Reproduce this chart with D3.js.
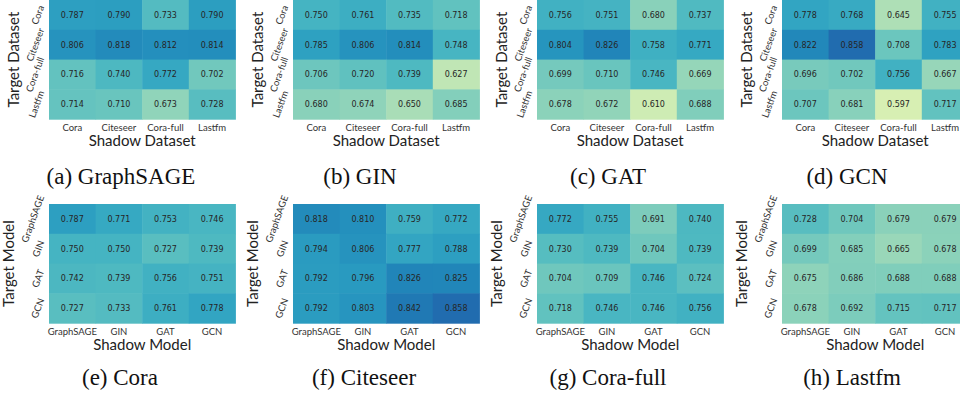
<!DOCTYPE html>
<html>
<head>
<meta charset="utf-8">
<script src="https://cdn.jsdelivr.net/npm/d3@7"></script>
<style>
  body { margin: 0; background: #fff; }
  svg { display: block; }
</style>
</head>
<body>
<div id="chart-area"></div>
<script>
// Categories
const datasets = ["Cora", "Citeseer", "Cora-full", "Lastfm"]
const models = ["GraphSAGE", "GIN", "GAT", "GCN"]

// Top row: rows = target dataset, columns = shadow dataset
const graphsageVals = [
  [0.787, 0.790, 0.733, 0.790],
  [0.806, 0.818, 0.812, 0.814],
  [0.716, 0.740, 0.772, 0.702],
  [0.714, 0.710, 0.673, 0.728]
]
const ginVals = [
  [0.750, 0.761, 0.735, 0.718],
  [0.785, 0.806, 0.814, 0.748],
  [0.706, 0.720, 0.739, 0.627],
  [0.680, 0.674, 0.650, 0.685]
]
const gatVals = [
  [0.756, 0.751, 0.680, 0.737],
  [0.804, 0.826, 0.758, 0.771],
  [0.699, 0.710, 0.746, 0.669],
  [0.678, 0.672, 0.610, 0.688]
]
const gcnVals = [
  [0.778, 0.768, 0.645, 0.755],
  [0.822, 0.858, 0.708, 0.783],
  [0.696, 0.702, 0.756, 0.667],
  [0.707, 0.681, 0.597, 0.717]
]

// Bottom row: rows = target model, columns = shadow model
const coraVals = [
  [0.787, 0.771, 0.753, 0.746],
  [0.750, 0.750, 0.727, 0.739],
  [0.742, 0.739, 0.756, 0.751],
  [0.727, 0.733, 0.761, 0.778]
]
const citeseerVals = [
  [0.818, 0.810, 0.759, 0.772],
  [0.794, 0.806, 0.777, 0.788],
  [0.792, 0.796, 0.826, 0.825],
  [0.792, 0.803, 0.842, 0.858]
]
const coraFullVals = [
  [0.772, 0.755, 0.691, 0.740],
  [0.730, 0.739, 0.704, 0.739],
  [0.704, 0.709, 0.746, 0.724],
  [0.718, 0.746, 0.746, 0.756]
]
const lastfmVals = [
  [0.728, 0.704, 0.679, 0.679],
  [0.699, 0.685, 0.665, 0.678],
  [0.675, 0.686, 0.688, 0.688],
  [0.678, 0.692, 0.715, 0.717]
]

const topCaptions = ["(a) GraphSAGE", "(b) GIN", "(c) GAT", "(d) GCN"]
const bottomCaptions = ["(e) Cora", "(f) Citeseer", "(g) Cora-full", "(h) Lastfm"]

const WIDTH = 960
const HEIGHT = 395
const CELL_W = 46.6
const CELL_H = 29.8
const SANS = "Lato, 'Open Sans', sans-serif"

const svg = d3.select("#chart-area").append("svg")
  .attr("width", WIDTH)
  .attr("height", HEIGHT)

// shared colour scale (seaborn YlGnBu, vmin 0.5, vmax 1.0)
const color = d3.scaleSequential(d3.interpolateYlGnBu).domain([0.5, 1.0])

function drawPanel(opts) {
  const g = svg.append("g")
    .attr("transform", `translate(${opts.left}, ${opts.top})`)

  const x = d3.scaleBand()
    .domain(opts.cols)
    .range([0, CELL_W * 4])
  const y = d3.scaleBand()
    .domain(opts.rows)
    .range([0, CELL_H * 4])

  const cells = []
  opts.values.forEach((row, i) => {
    row.forEach((v, j) => cells.push({ r: opts.rows[i], c: opts.cols[j], v: v }))
  })

  g.selectAll("rect.cell")
    .data(cells)
    .enter().append("rect")
    .attr("class", "cell")
    .attr("x", d => x(d.c))
    .attr("y", d => y(d.r))
    .attr("width", x.bandwidth() + 0.5)
    .attr("height", y.bandwidth() + 0.5)
    .attr("fill", d => color(d.v))

  g.selectAll("text.annot")
    .data(cells)
    .enter().append("text")
    .attr("class", "annot")
    .attr("x", d => x(d.c) + x.bandwidth() / 2)
    .attr("y", d => y(d.r) + y.bandwidth() / 2)
    .attr("dy", "0.36em")
    .attr("text-anchor", "middle")
    .attr("font-family", "'DejaVu Sans', sans-serif")
    .attr("font-size", "8px")
    .attr("fill", "#262626")
    .text(d => d3.format(".3f")(d.v))

  // x tick labels
  g.selectAll("text.xtick")
    .data(opts.cols)
    .enter().append("text")
    .attr("class", "xtick")
    .attr("x", d => x(d) + x.bandwidth() / 2)
    .attr("y", y.range()[1] + 11.5)
    .attr("text-anchor", "middle")
    .attr("font-family", SANS)
    .attr("font-size", "9.5px")
    .attr("fill", "#333")
    .text(d => d)

  // y tick labels, rotated
  const yt = g.selectAll("text.ytick")
    .data(opts.rows)
    .enter().append("text")
    .attr("class", "ytick")
    .attr("text-anchor", "middle")
    .attr("dy", "0.35em")
    .attr("font-family", SANS)
    .attr("font-size", "9.5px")
    .attr("fill", "#333")
    .text(d => d)
  const ang = 70 * Math.PI / 180
  yt.each(function (d) {
    const len = this.getComputedTextLength()
    const half = (len * Math.cos(ang) + 8 * Math.sin(ang)) / 2
    const cx = -4 - half
    const cy = y(d) + y.bandwidth() / 2
    d3.select(this)
      .attr("x", 0).attr("y", 0)
      .attr("transform", `translate(${cx}, ${cy}) rotate(-70)`)
  })

  // axis titles
  g.append("text")
    .attr("x", x.range()[1] / 2)
    .attr("y", y.range()[1] + 27)
    .attr("text-anchor", "middle")
    .attr("font-family", SANS)
    .attr("font-size", "15px")
    .attr("fill", "#222")
    .text(opts.xLabel)
  g.append("text")
    .attr("transform", `translate(${opts.yLabelX}, ${y.range()[1] / 2}) rotate(-90)`)
    .attr("dy", "0.35em")
    .attr("text-anchor", "middle")
    .attr("font-family", SANS)
    .attr("font-size", "15px")
    .attr("fill", "#222")
    .text(opts.yLabel)

  // caption
  svg.append("text")
    .attr("x", opts.captionX)
    .attr("y", opts.captionY)
    .attr("text-anchor", "middle")
    .attr("font-family", "'Liberation Serif', 'Times New Roman', serif")
    .attr("font-size", "23px")
    .attr("fill", "#111")
    .text(opts.caption)
}

const topVals = [graphsageVals, ginVals, gatVals, gcnVals]
const bottomVals = [coraVals, citeseerVals, coraFullVals, lastfmVals]
const lefts = [49, 293, 537, 782]
const topCapX = [121, 360, 608, 847]
const bottomCapX = [120, 364, 608, 852]

topVals.forEach((vals, i) => {
  drawPanel({
    left: lefts[i], top: 0, values: vals,
    rows: datasets, cols: datasets,
    xLabel: "Shadow Dataset", yLabel: "Target Dataset", yLabelX: -35,
    caption: topCaptions[i], captionX: topCapX[i], captionY: 184
  })
})

bottomVals.forEach((vals, i) => {
  drawPanel({
    left: lefts[i], top: 204, values: vals,
    rows: models, cols: models,
    xLabel: "Shadow Model", yLabel: "Target Model", yLabelX: -40,
    caption: bottomCaptions[i], captionX: bottomCapX[i], captionY: 385
  })
})
</script>
</body>
</html>
